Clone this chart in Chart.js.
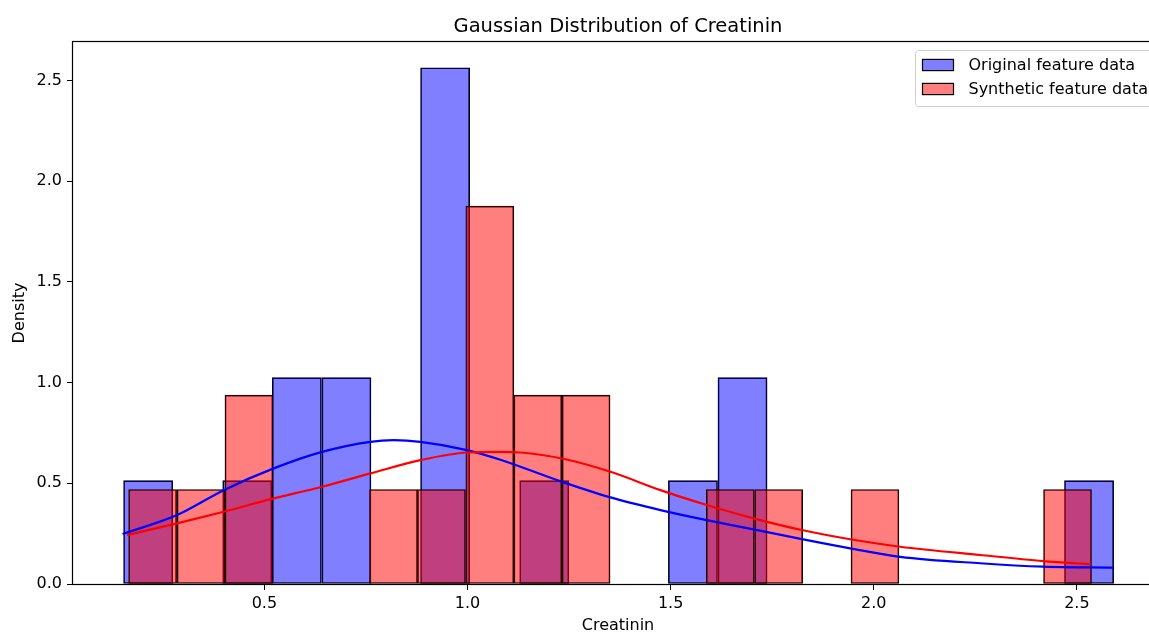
<!DOCTYPE html>
<html>
<head>
<meta charset="utf-8">
<title>Gaussian Distribution of Creatinin</title>
<script src="https://cdn.jsdelivr.net/npm/chart.js@4.4.1/dist/chart.umd.min.js"></script>
<style>
    html, body { margin: 0; padding: 0; background: #fff; overflow: hidden; }
    #contenedor { width: 1170px; height: 632px; }
</style>
</head>
<body>
<div id="contenedor"><canvas id="grafico" width="1170" height="632"></canvas></div>
<script>
// histogram bins (center of each bin) and density per bin
var centersOriginal = [0.214, 0.336, 0.458, 0.580, 0.702, 0.824, 0.945, 1.067, 1.189, 1.311,
    1.433, 1.555, 1.677, 1.799, 1.921, 2.043, 2.164, 2.286, 2.408, 2.530];
var densityOriginal = [0.513, 0, 0.513, 1.025, 1.025, 0, 2.563, 0, 0.513, 0,
    0, 0.513, 1.025, 0, 0, 0, 0, 0, 0, 0.513];

var centersSynthetic = [0.225, 0.344, 0.462, 0.581, 0.699, 0.818, 0.936, 1.055, 1.173, 1.292,
    1.410, 1.529, 1.647, 1.766, 1.884, 2.003, 2.121, 2.240, 2.358, 2.477];
var densitySynthetic = [0.469, 0.469, 0.938, 0, 0, 0.469, 0.469, 1.876, 0.938, 0.938,
    0, 0, 0.469, 0.469, 0, 0.469, 0, 0, 0, 0.469];

// kde curves
var kdeOriginalX = [0.151, 0.285, 0.400, 0.523, 0.642, 0.761, 0.818, 0.884, 0.999, 1.081, 1.233,
    1.352, 1.475, 1.589, 1.704, 1.823, 1.942, 2.065, 2.262, 2.417, 2.590];
var kdeOriginalY = [0.248, 0.342, 0.466, 0.574, 0.656, 0.706, 0.714, 0.706, 0.665, 0.617, 0.507,
    0.430, 0.367, 0.317, 0.271, 0.223, 0.177, 0.135, 0.103, 0.086, 0.081];

var kdeSyntheticX = [0.162, 0.285, 0.400, 0.523, 0.642, 0.761, 0.884, 0.999, 1.081, 1.130, 1.233,
    1.352, 1.475, 1.589, 1.704, 1.823, 1.942, 2.065, 2.262, 2.418, 2.535];
var kdeSyntheticY = [0.243, 0.301, 0.359, 0.425, 0.483, 0.549, 0.615, 0.653, 0.656, 0.653, 0.623,
    0.557, 0.466, 0.392, 0.326, 0.268, 0.222, 0.185, 0.144, 0.114, 0.098];

var ticksX = [0.5, 1.0, 1.5, 2.0, 2.5];
var ticksY = [0, 0.5, 1.0, 1.5, 2.0, 2.5];
var limitsX = [0.029, 2.712];
var limitsY = [0, 2.691];

var seriesNames = ['Original feature data', 'Synthetic feature data'];
var fillColors = ['rgba(0, 0, 255, 0.5)', 'rgba(255, 0, 0, 0.5)'];
var lineColors = ['#0000ff', '#ff0000'];

var fontFamily = "'DejaVu Sans', sans-serif";
var fontSize = 16;

function toPoints(xs, ys) {
    return xs.map(function (x, i) { return { x: x, y: ys[i] }; });
}

// four spines around the plot area
var plotFrame = {
    id: 'plotFrame',
    afterDatasetsDraw: function (chart) {
        var ctx = chart.ctx;
        var a = chart.chartArea;
        ctx.save();
        ctx.strokeStyle = '#000';
        ctx.lineWidth = 1.2;
        ctx.strokeRect(Math.round(a.left) - 0.5, Math.round(a.top) - 0.5,
            Math.round(a.right - a.left) + 1, Math.round(a.bottom - a.top) + 1);
        ctx.restore();
    }
};

// matplotlib style legend box in the upper right corner
var legendBox = {
    id: 'legendBox',
    afterDraw: function (chart) {
        var ctx = chart.ctx;
        var a = chart.chartArea;
        ctx.save();
        ctx.font = fontSize + 'px ' + fontFamily;
        var textWidth = 0;
        seriesNames.forEach(function (n) {
            textWidth = Math.max(textWidth, ctx.measureText(n).width);
        });
        var pad = 7;
        var handleW = 2 * fontSize;
        var handleH = 0.7 * fontSize;
        var gap = 14;
        var rowH = 1.5 * fontSize;
        var right = a.right - 0.5 * fontSize;
        var left = right - (pad * 2 + handleW + gap + textWidth);
        var top = a.top + 0.5 * fontSize;
        var height = pad * 2 + rowH * seriesNames.length - 0.5 * fontSize + 2;

        ctx.beginPath();
        ctx.roundRect(Math.round(left) + 0.5, Math.round(top) + 0.5, right - left, height, 3);
        ctx.fillStyle = 'rgba(255, 255, 255, 0.8)';
        ctx.fill();
        ctx.strokeStyle = '#d0d0d0';
        ctx.lineWidth = 1;
        ctx.stroke();

        ctx.textBaseline = 'middle';
        for (var i = 0; i < seriesNames.length; i++) {
            var cy = Math.round(top + pad + 0.5 * fontSize + i * rowH);
            var hx = Math.round(left + pad);
            ctx.fillStyle = '#fff';
            ctx.fillRect(hx, cy - handleH / 2, handleW, handleH);
            ctx.fillStyle = fillColors[i];
            ctx.fillRect(hx, cy - handleH / 2, handleW, handleH);
            ctx.strokeStyle = '#000';
            ctx.lineWidth = 1.2;
            ctx.strokeRect(hx + 0.5, cy - handleH / 2, handleW - 1, handleH);
            ctx.fillStyle = '#000';
            ctx.fillText(seriesNames[i], left + pad + handleW + gap, cy + 1);
        }
        ctx.restore();
    }
};

var tickFont = { family: fontFamily, size: fontSize };

var config = {
    type: 'bar',
    data: {
        datasets: [
            {
                type: 'line',
                label: seriesNames[1] + ' kde',
                data: toPoints(kdeSyntheticX, kdeSyntheticY),
                xAxisID: 'x',
                borderColor: lineColors[1],
                borderWidth: 2.2,
                pointRadius: 0,
                cubicInterpolationMode: 'monotone',
                fill: false,
                order: 0
            },
            {
                type: 'line',
                label: seriesNames[0] + ' kde',
                data: toPoints(kdeOriginalX, kdeOriginalY),
                xAxisID: 'x',
                borderColor: lineColors[0],
                borderWidth: 2.2,
                pointRadius: 0,
                cubicInterpolationMode: 'monotone',
                fill: false,
                order: 1
            },
            {
                label: seriesNames[1],
                data: toPoints(centersSynthetic, densitySynthetic),
                xAxisID: 'xSynthetic',
                backgroundColor: fillColors[1],
                borderColor: '#000',
                borderWidth: 1,
                borderSkipped: false,
                grouped: false,
                barPercentage: 1,
                categoryPercentage: 1,
                order: 2
            },
            {
                label: seriesNames[0],
                data: toPoints(centersOriginal, densityOriginal),
                xAxisID: 'x',
                backgroundColor: fillColors[0],
                borderColor: '#000',
                borderWidth: 1,
                borderSkipped: false,
                grouped: false,
                barPercentage: 1,
                categoryPercentage: 1,
                order: 3
            }
        ]
    },
    options: {
        responsive: false,
        animation: false,
        layout: { padding: { left: 0, right: 7, top: 0, bottom: 0 } },
        plugins: {
            legend: { display: false },
            tooltip: { enabled: false },
            title: {
                display: true,
                text: 'Gaussian Distribution of Creatinin',
                fullSize: false,
                color: '#000',
                font: { family: fontFamily, size: 19.5, weight: 'normal', lineHeight: 1.2 },
                padding: { top: 15, bottom: 3.6 }
            }
        },
        scales: {
            x: {
                type: 'linear',
                position: 'bottom',
                min: limitsX[0],
                max: limitsX[1],
                offset: false,
                afterBuildTicks: function (scale) {
                    scale.ticks = ticksX.map(function (v) { return { value: v }; });
                },
                afterFit: function (scale) { scale.height = 48; },
                ticks: {
                    color: '#000',
                    font: tickFont,
                    padding: 4,
                    maxRotation: 0,
                    callback: function (v) { return Number(v).toFixed(1); }
                },
                grid: { offset: false, drawOnChartArea: false, drawTicks: true, tickLength: 6, color: '#000' },
                border: { display: false },
                title: {
                    display: true,
                    text: 'Creatinin',
                    color: '#000',
                    font: { family: fontFamily, size: fontSize, lineHeight: 0.75 },
                    padding: { top: 0, bottom: 0 }
                }
            },
            xSynthetic: {
                type: 'linear',
                display: false,
                min: limitsX[0],
                max: limitsX[1],
                offset: false
            },
            y: {
                type: 'linear',
                min: limitsY[0],
                max: limitsY[1],
                afterBuildTicks: function (scale) {
                    scale.ticks = ticksY.map(function (v) { return { value: v }; });
                },
                afterFit: function (scale) { scale.width = 73; },
                ticks: {
                    color: '#000',
                    font: tickFont,
                    padding: 5,
                    callback: function (v) { return Number(v).toFixed(1); }
                },
                grid: { drawOnChartArea: false, drawTicks: true, tickLength: 6, color: '#000' },
                border: { display: false },
                title: {
                    display: true,
                    text: 'Density',
                    color: '#000',
                    font: { family: fontFamily, size: fontSize, lineHeight: 1 },
                    padding: { top: 12, bottom: 0 }
                }
            }
        }
    },
    plugins: [plotFrame, legendBox]
};

var grafico = new Chart(document.getElementById('grafico').getContext('2d'), config);
</script>
</body>
</html>
